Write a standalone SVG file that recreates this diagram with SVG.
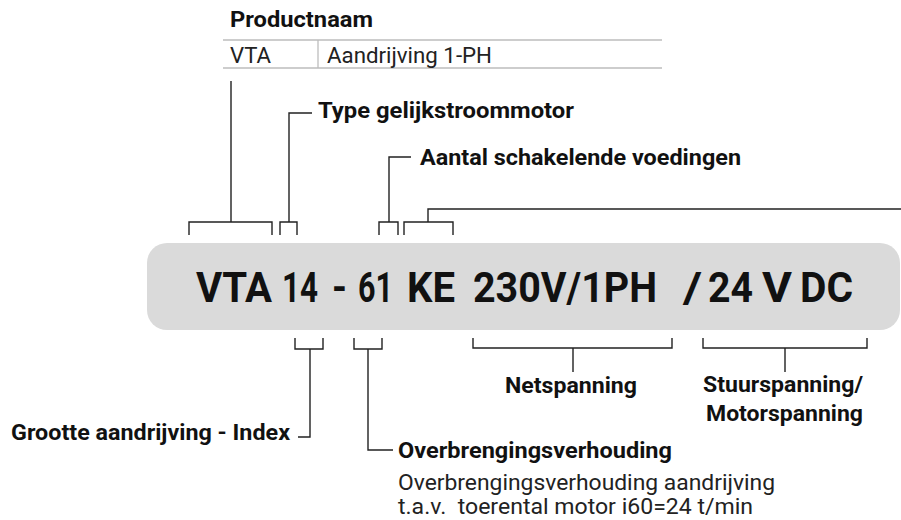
<svg xmlns="http://www.w3.org/2000/svg" width="901" height="520" viewBox="0 0 901 520">
<style>
.b{font-family:Roboto,"Liberation Sans",sans-serif;font-weight:700;font-size:21.5px;fill:#111}
.r{font-family:Roboto,"Liberation Sans",sans-serif;font-weight:400;font-size:22px;fill:#222}
.m{font-family:Roboto,"Liberation Sans",sans-serif;font-weight:700;font-size:42px;fill:#111}
.ln{fill:none;stroke:#222;stroke-width:1.4}
.tb{fill:none;stroke:#bdbdbd;stroke-width:1.3}
</style>
<rect width="901" height="520" fill="#fff"/>
<g id="productnaam">
<text class="b" x="230" y="27" textLength="143" lengthAdjust="spacingAndGlyphs">Productnaam</text>
<path class="tb" d="M223 40H662M223 68H662M318 40V68"/>
<text class="r" x="230" y="63" textLength="41" lengthAdjust="spacingAndGlyphs">VTA</text>
<text class="r" x="327" y="63" textLength="165" lengthAdjust="spacingAndGlyphs">Aandrijving 1-PH</text>
</g>
<g id="code">
<rect x="147" y="243" width="753" height="87" rx="20" fill="#dadada"/>
<text class="m" y="302">
<tspan x="196" textLength="76" lengthAdjust="spacingAndGlyphs">VTA</tspan>
<tspan x="282" textLength="36" lengthAdjust="spacingAndGlyphs">14</tspan>
<tspan x="332" textLength="15" lengthAdjust="spacingAndGlyphs">-</tspan>
<tspan x="358" textLength="35" lengthAdjust="spacingAndGlyphs">61</tspan>
<tspan x="407" textLength="48" lengthAdjust="spacingAndGlyphs">KE</tspan>
<tspan x="473" textLength="184" lengthAdjust="spacingAndGlyphs">230V/1PH</tspan>
<tspan x="683" textLength="19" lengthAdjust="spacingAndGlyphs">/</tspan>
<tspan x="708" textLength="45" lengthAdjust="spacingAndGlyphs">24</tspan>
<tspan x="762" textLength="30" lengthAdjust="spacingAndGlyphs">V</tspan>
<tspan x="800" textLength="53" lengthAdjust="spacingAndGlyphs">DC</tspan>
</text>
</g>
<g id="type-motor">
<text class="b" x="318" y="118" textLength="256" lengthAdjust="spacingAndGlyphs">Type gelijkstroommotor</text>
</g>
<g id="aantal-voedingen">
<text class="b" x="420" y="165" textLength="321" lengthAdjust="spacingAndGlyphs">Aantal schakelende voedingen</text>
</g>
<g id="grootte">
<text class="b" x="11" y="440" textLength="279" lengthAdjust="spacingAndGlyphs">Grootte aandrijving - Index</text>
</g>
<g id="netspanning">
<text class="b" x="505" y="393" textLength="132" lengthAdjust="spacingAndGlyphs">Netspanning</text>
</g>
<g id="stuurspanning">
<text class="b" x="703" y="392" textLength="160" lengthAdjust="spacingAndGlyphs">Stuurspanning/</text>
<text class="b" x="706" y="421" textLength="157" lengthAdjust="spacingAndGlyphs">Motorspanning</text>
</g>
<g id="overbrenging">
<text class="b" x="398" y="458" textLength="274" lengthAdjust="spacingAndGlyphs">Overbrengingsverhouding</text>
<text class="r" x="398" y="490" textLength="377" lengthAdjust="spacingAndGlyphs">Overbrengingsverhouding aandrijving</text>
<text class="r" x="398" y="514" textLength="355" lengthAdjust="spacingAndGlyphs" xml:space="preserve">t.a.v.  toerental motor i60=24 t/min</text>
</g>
<g id="connectors">
<path class="ln" d="M189 235V222H272V235M231 222V81"/>
<path class="ln" d="M280 235V222H297V235M289 222V113H312"/>
<path class="ln" d="M379 235V222H398V235M389 222V157H411"/>
<path class="ln" d="M404 235V222H453V235M428 222V209H901"/>
<path class="ln" d="M295 338V349H323V338M310 349V437H298"/>
<path class="ln" d="M354 338V349H382V338M368 349V450H393"/>
<path class="ln" d="M473 338V348H672V338M573 348V372"/>
<path class="ln" d="M703 338V348H867V338M785 348V372"/>
</g>
</svg>
